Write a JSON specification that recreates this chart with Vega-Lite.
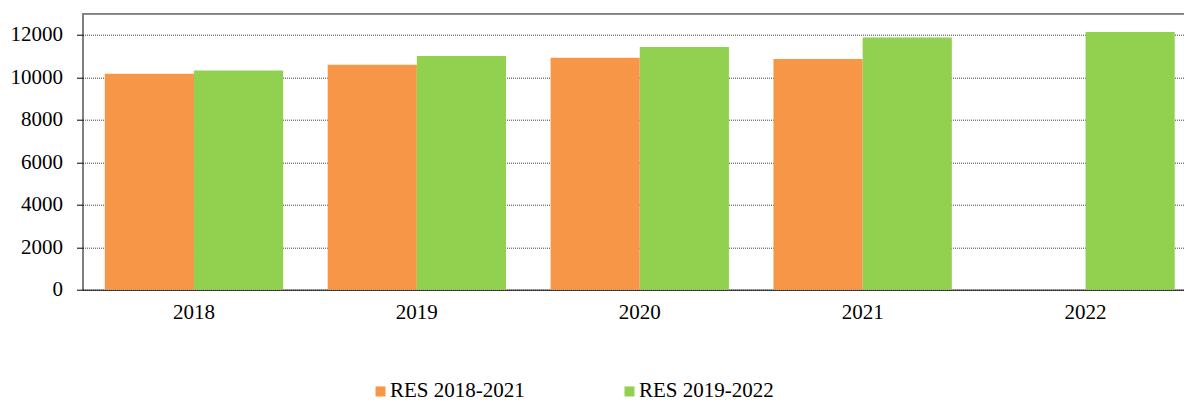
{
  "$schema": "https://vega.github.io/schema/vega-lite/v6.json",
  "width": 1101.5,
  "height": 276,
  "autosize": {"type": "none"},
  "padding": {"left": 82.5, "top": 13.7, "right": 0, "bottom": 111.3},
  "background": "white",
  "config": {"view": {"stroke": null}, "font": "Liberation Serif"},
  "data": {
    "values": [
      {"year": "2018", "series": "RES 2018-2021", "value": 10170},
      {"year": "2019", "series": "RES 2018-2021", "value": 10590},
      {"year": "2020", "series": "RES 2018-2021", "value": 10930},
      {"year": "2021", "series": "RES 2018-2021", "value": 10870},
      {"year": "2018", "series": "RES 2019-2022", "value": 10320},
      {"year": "2019", "series": "RES 2019-2022", "value": 11010},
      {"year": "2020", "series": "RES 2019-2022", "value": 11435},
      {"year": "2021", "series": "RES 2019-2022", "value": 11875},
      {"year": "2022", "series": "RES 2019-2022", "value": 12140}
    ]
  },
  "layer": [
    {
      "mark": {"type": "bar"},
      "encoding": {
        "x": {
          "field": "year", "type": "ordinal",
          "scale": {"range": [0, 1114.5], "paddingInner": 0.2, "paddingOuter": 0.1},
          "axis": {"title": null, "labelAngle": 0, "ticks": false, "domainColor": "black", "domainWidth": 1, "labelFontSize": 21, "labelColor": "black", "labelPadding": 12, "grid": false}
        },
        "xOffset": {"field": "series", "type": "nominal", "scale": {"paddingInner": 0, "paddingOuter": 0}},
        "y": {
          "field": "value", "type": "quantitative",
          "scale": {"domain": [0, 13000], "nice": false},
          "axis": {"title": null, "format": "d", "values": [0, 2000, 4000, 6000, 8000, 10000, 12000], "grid": true, "gridDash": [1, 1], "gridColor": "#404040", "gridOpacity": 1, "domainColor": "black", "tickColor": "black", "tickSize": 6, "labelFontSize": 21, "labelColor": "black", "labelPadding": 14}
        },
        "color": {
          "field": "series", "type": "nominal",
          "scale": {"domain": ["RES 2018-2021", "RES 2019-2022"], "range": ["#F79646", "#92D050"]},
          "legend": {"title": null, "orient": "none", "legendX": 287.5, "legendY": 367, "direction": "horizontal", "symbolType": "square", "symbolSize": 100, "symbolStrokeWidth": 0, "labelFontSize": 21, "labelColor": "black", "labelOffset": -1, "columnPadding": 94}
        }
      }
    },
    {
      "mark": {"type": "rule", "color": "#7f7f7f", "strokeWidth": 1},
      "encoding": {"y": {"datum": 13000}}
    }
  ]
}
